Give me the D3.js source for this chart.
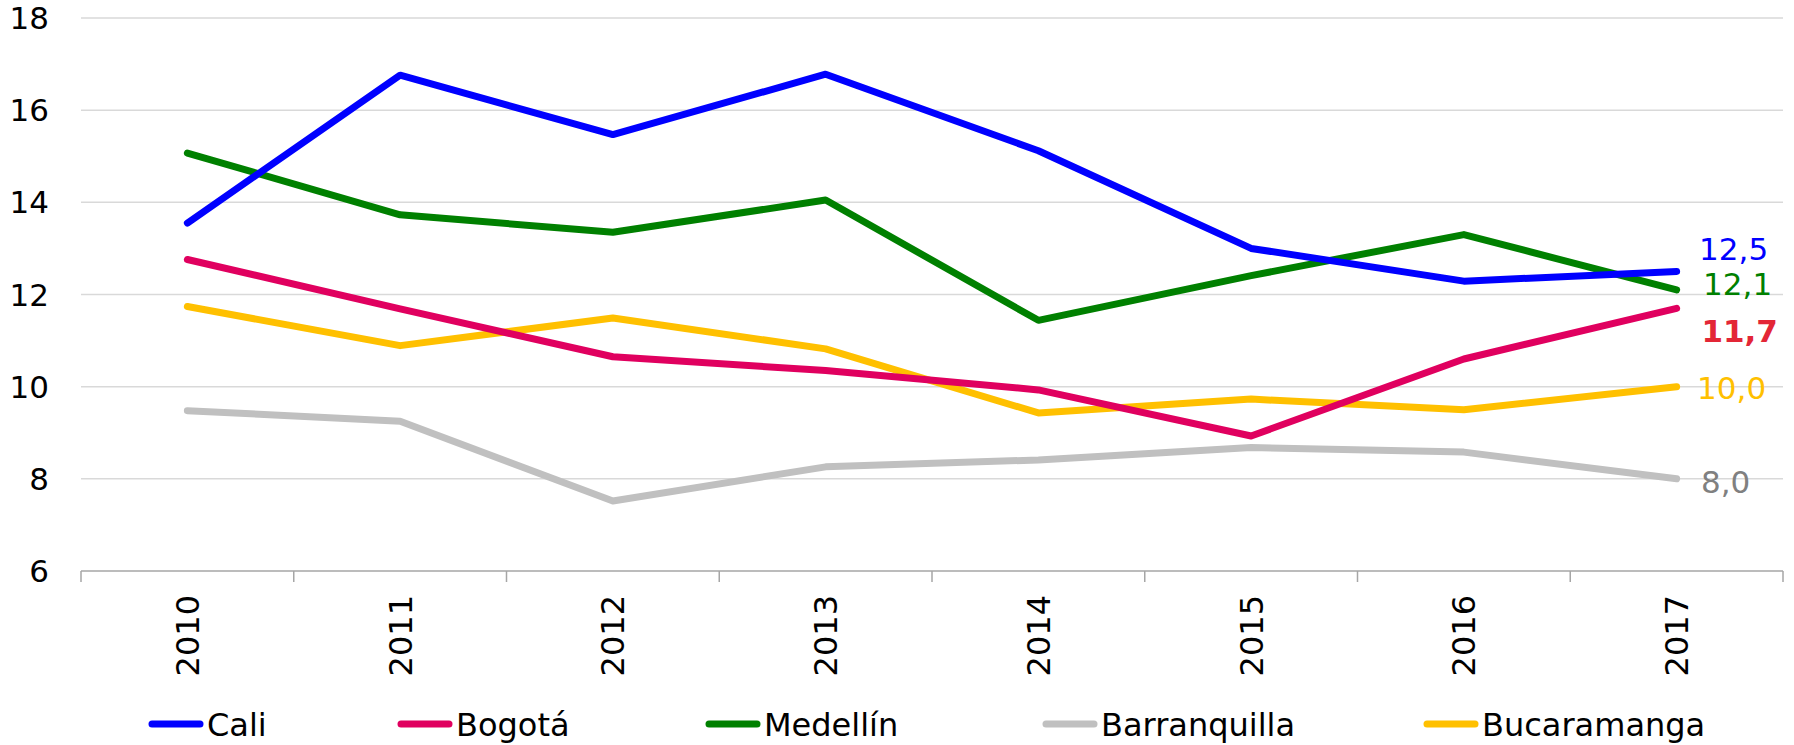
<!DOCTYPE html>
<html>
<head>
<meta charset="utf-8">
<script src="https://cdn.jsdelivr.net/npm/d3@7"></script>
<style>
  body { margin: 0; background: #fff; }
  svg text { font-family: "DejaVu Sans", sans-serif; }
</style>
</head>
<body>
<div class="chart"></div>
<script>
const years = ["2010", "2011", "2012", "2013", "2014", "2015", "2016", "2017"];
const cali = [13.55, 16.76, 15.47, 16.78, 15.12, 13.0, 12.29, 12.5];
const bogota = [12.76, 11.69, 10.65, 10.35, 9.93, 8.93, 10.6, 11.7];
const medellin = [15.07, 13.73, 13.35, 14.05, 11.44, 12.41, 13.3, 12.1];
const barranquilla = [9.48, 9.25, 7.52, 8.26, 8.41, 8.68, 8.58, 8.0];
const bucaramanga = [11.74, 10.89, 11.49, 10.82, 9.43, 9.73, 9.5, 10.0];
const yTicks = [6, 8, 10, 12, 14, 16, 18];

// label offsets next to the last point (centre of the text)
const series = [
  { name: "Cali", values: cali, color: "#0000ff", label: "#0000ff", dy: -23, dx: 57, bold: false },
  { name: "Bogotá", values: bogota, color: "#e0005f", label: "#e32636", dy: 23, dx: 63, bold: true },
  { name: "Medellín", values: medellin, color: "#008000", label: "#008000", dy: -6, dx: 61, bold: false },
  { name: "Barranquilla", values: barranquilla, color: "#c0c0c0", label: "#808080", dy: 3, dx: 49, bold: false },
  { name: "Bucaramanga", values: bucaramanga, color: "#ffc000", label: "#ffc000", dy: 1, dx: 55, bold: false }
];
const legendOrder = ["Cali", "Bogotá", "Medellín", "Barranquilla", "Bucaramanga"];
const legendX = [149, 398, 706, 1043, 1424];

const width = 1794, height = 745;
const margin = { top: 18, right: 11, bottom: 174, left: 81 };

const svg = d3.select(".chart").append("svg")
  .attr("width", width)
  .attr("height", height);

const x = d3.scaleBand().domain(years).range([margin.left, width - margin.right]);
const y = d3.scaleLinear().domain([6, 18]).range([height - margin.bottom, margin.top]);

// gridlines
svg.append("g")
  .selectAll("line")
  .data(yTicks.filter(d => d > 6))
  .join("line")
  .attr("x1", margin.left)
  .attr("x2", width - margin.right)
  .attr("y1", d => y(d))
  .attr("y2", d => y(d))
  .attr("stroke", "#d9d9d9")
  .attr("stroke-width", 1.5);

// y labels
svg.append("g")
  .selectAll("text")
  .data(yTicks)
  .join("text")
  .attr("x", 49)
  .attr("y", d => y(d))
  .attr("dy", "0.36em")
  .attr("text-anchor", "end")
  .attr("font-size", 31)
  .attr("fill", "#000")
  .text(d => d);

// x axis line and ticks at band edges
const base = y(6);
svg.append("line")
  .attr("x1", margin.left).attr("x2", width - margin.right)
  .attr("y1", base).attr("y2", base)
  .attr("stroke", "#a6a6a6").attr("stroke-width", 1.5);
const edges = years.map(d => x(d)).concat([x(years[years.length - 1]) + x.bandwidth()]);
svg.append("g")
  .selectAll("line")
  .data(edges)
  .join("line")
  .attr("x1", d => d).attr("x2", d => d)
  .attr("y1", base).attr("y2", base + 11)
  .attr("stroke", "#a6a6a6").attr("stroke-width", 1.5);

// x labels rotated
svg.append("g")
  .selectAll("text")
  .data(years)
  .join("text")
  .attr("transform", d => `translate(${x(d) + x.bandwidth() / 2},${base + 24}) rotate(-90)`)
  .attr("dy", "0.36em")
  .attr("text-anchor", "end")
  .attr("font-size", 32)
  .attr("fill", "#000")
  .text(d => d);

const line = d3.line()
  .x((d, i) => x(years[i]) + x.bandwidth() / 2)
  .y(d => y(d));

// draw order: barranquilla, bucaramanga, bogota, medellin, cali
const drawOrder = ["Barranquilla", "Bucaramanga", "Bogotá", "Medellín", "Cali"];
svg.append("g")
  .selectAll("path")
  .data(drawOrder.map(n => series.find(s => s.name == n)))
  .join("path")
  .attr("d", d => line(d.values))
  .attr("fill", "none")
  .attr("stroke", d => d.color)
  .attr("stroke-width", 7)
  .attr("stroke-linecap", "round")
  .attr("stroke-linejoin", "round");

// end labels
const lastX = x(years[years.length - 1]) + x.bandwidth() / 2;
svg.append("g")
  .selectAll("text")
  .data(series)
  .join("text")
  .attr("x", d => lastX + d.dx)
  .attr("y", d => y(d.values[d.values.length - 1]) + d.dy)
  .attr("dy", "0.36em")
  .attr("text-anchor", "middle")
  .attr("font-size", 31)
  .attr("font-weight", d => d.bold ? "bold" : "normal")
  .attr("fill", d => d.label)
  .text(d => d3.format(".1f")(d.values[d.values.length - 1]).replace(".", ","));

// legend
const legend = svg.append("g")
  .selectAll("g")
  .data(legendOrder.map(n => series.find(s => s.name == n)))
  .join("g")
  .attr("transform", (d, i) => `translate(${legendX[i]},724)`);
legend.append("line")
  .attr("x1", 3).attr("x2", 51)
  .attr("stroke", d => d.color)
  .attr("stroke-width", 7)
  .attr("stroke-linecap", "round");
legend.append("text")
  .attr("x", 58)
  .attr("dy", "0.36em")
  .attr("font-size", 32)
  .attr("fill", "#000")
  .text(d => d.name);
</script>
</body>
</html>
